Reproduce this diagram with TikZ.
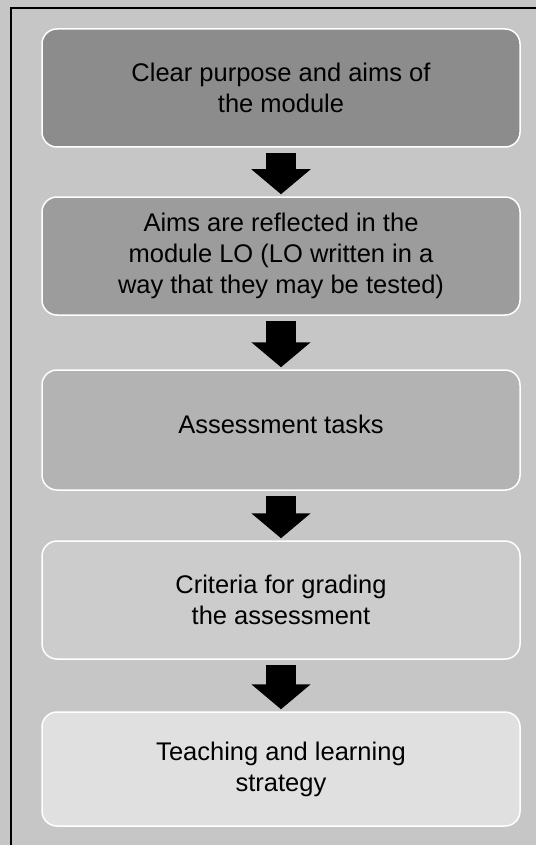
\documentclass[tikz,border=0pt]{standalone}
\usepackage{fontspec}
\setmainfont{Liberation Sans}
\usetikzlibrary{arrows.meta}
\definecolor{bgc}{HTML}{C6C6C6}
\definecolor{cA}{HTML}{8C8C8C}
\definecolor{cB}{HTML}{9C9C9C}
\definecolor{cC}{HTML}{B3B3B3}
\definecolor{cD}{HTML}{CCCCCC}
\definecolor{cE}{HTML}{E0E0E0}
\begin{document}
\begin{tikzpicture}[x=1pt,y=-1pt,
  stepbox/.style={draw=white, line width=1.5pt, rounded corners=15pt,
    minimum width=478pt, minimum height=118pt, align=center,
    font=\fontsize{25.5}{31}\selectfont, text=black, inner sep=0pt},
  blockarrow/.style={line width=30pt, black,
    -{Triangle[width=58pt,length=25pt]}, shorten <=5pt, shorten >=2pt}]
\useasboundingbox (0,0) rectangle (536,845);
\fill[bgc] (0,0) rectangle (536,845);
\draw[black, line width=2pt] (11,845) -- (11,8) -- (536,8);
\node[stepbox, fill=cA] (b1) at (281,88) {Clear purpose and aims of\\the module};
\node[stepbox, fill=cB] (b2) at (281,256) {Aims are reflected in the\\module LO (LO written in a\\way that they may be tested)};
\node[stepbox, fill=cC, minimum height=120pt] (b3) at (281,430) {};
\node[font=\fontsize{25.5}{31}\selectfont] (t3) at (281,424) {Assessment tasks};
\node[stepbox, fill=cD] (b4) at (281,600) {Criteria for grading\\the assessment};
\node[stepbox, fill=cE, minimum height=114pt] (b5) at (281,769) {Teaching and learning\\strategy};
\draw[blockarrow] (b1) -- (b2);
\draw[blockarrow] (b2) -- (b3);
\draw[blockarrow] (b3) -- (b4);
\draw[blockarrow] (b4) -- (b5);
\end{tikzpicture}
\end{document}
